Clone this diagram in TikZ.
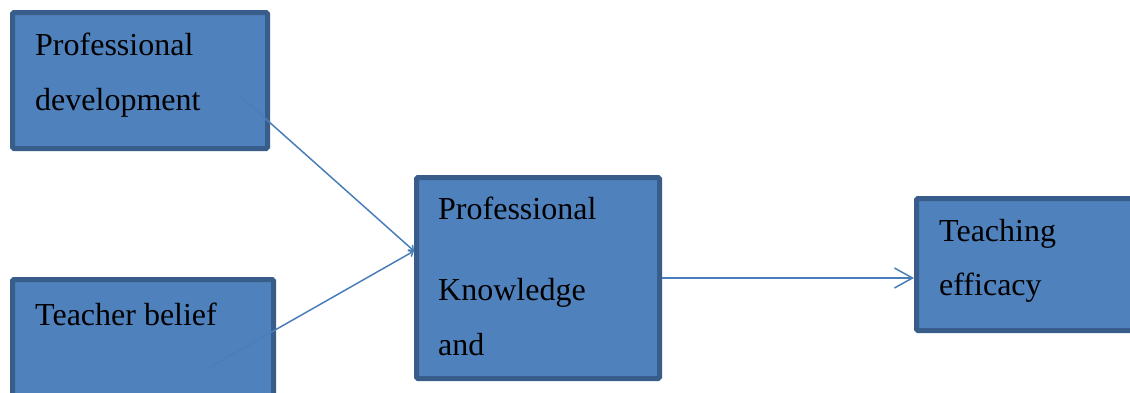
\documentclass[tikz,border=0pt]{standalone}
\usepackage{fontspec}
\setmainfont{Liberation Serif}
\usetikzlibrary{arrows.meta}
\definecolor{boxfill}{HTML}{4F81BD}
\definecolor{boxline}{HTML}{385D8A}
\definecolor{linkcol}{HTML}{4A7EBB}
\tikzset{
	box/.style={
		draw=boxline,
		fill=boxfill,
		line width=5pt,
		rounded corners=1.5pt,
		inner sep=0pt
	},
	boxtext/.style={
		anchor=base west,
		inner sep=0pt,
		font=\fontsize{32pt}{55pt}\selectfont
	}
}

\begin{document}
\begin{tikzpicture}[x=1pt,y=-1pt,link/.style={draw=linkcol,line width=1.5pt}]
	\useasboundingbox (0,0) rectangle (1130,392);
	\clip (0,0) rectangle (1130,392);

	% boxes
	\node [box,minimum width=255,minimum height=136] (profdev) at (140,80.5) {};
	\node [box,minimum width=261,minimum height=150.5] (belief) at (143,354.75) {};
	\node [box,minimum width=243,minimum height=201] (knowledge) at (538,278) {};
	\node [box,minimum width=228.5,minimum height=132] (efficacy) at (1030.75,264.5) {};

	% texts
	\node [boxtext] (profdevA) at (35,55) {Professional};
	\node [boxtext] (profdevB) at (35,110) {development};
	\node [boxtext] (beliefA) at (35,325) {Teacher belief};
	\node [boxtext] (knowA) at (438,219) {Professional};
	\node [boxtext] (knowB) at (438,300) {Knowledge};
	\node [boxtext] (knowC) at (438,355) {and};
	\node [boxtext] (effA) at (939,241) {Teaching};
	\node [boxtext] (effB) at (939,295) {efficacy};

	% connectors
	\coordinate (pdstart) at (240,96);
	\coordinate (tbstart) at (210,367);
	\coordinate (meet) at (414,251);
	\draw [link,-{Straight Barb[length=4pt,width=7pt]}] (pdstart) -- (meet);
	\draw [link,-{Straight Barb[length=4pt,width=7pt]}] (tbstart) -- (meet);
	\draw [link,-{Straight Barb[length=18pt,width=20pt]}] (knowledge.east) -- (knowledge.east -| efficacy.west);

\end{tikzpicture}
\end{document}
